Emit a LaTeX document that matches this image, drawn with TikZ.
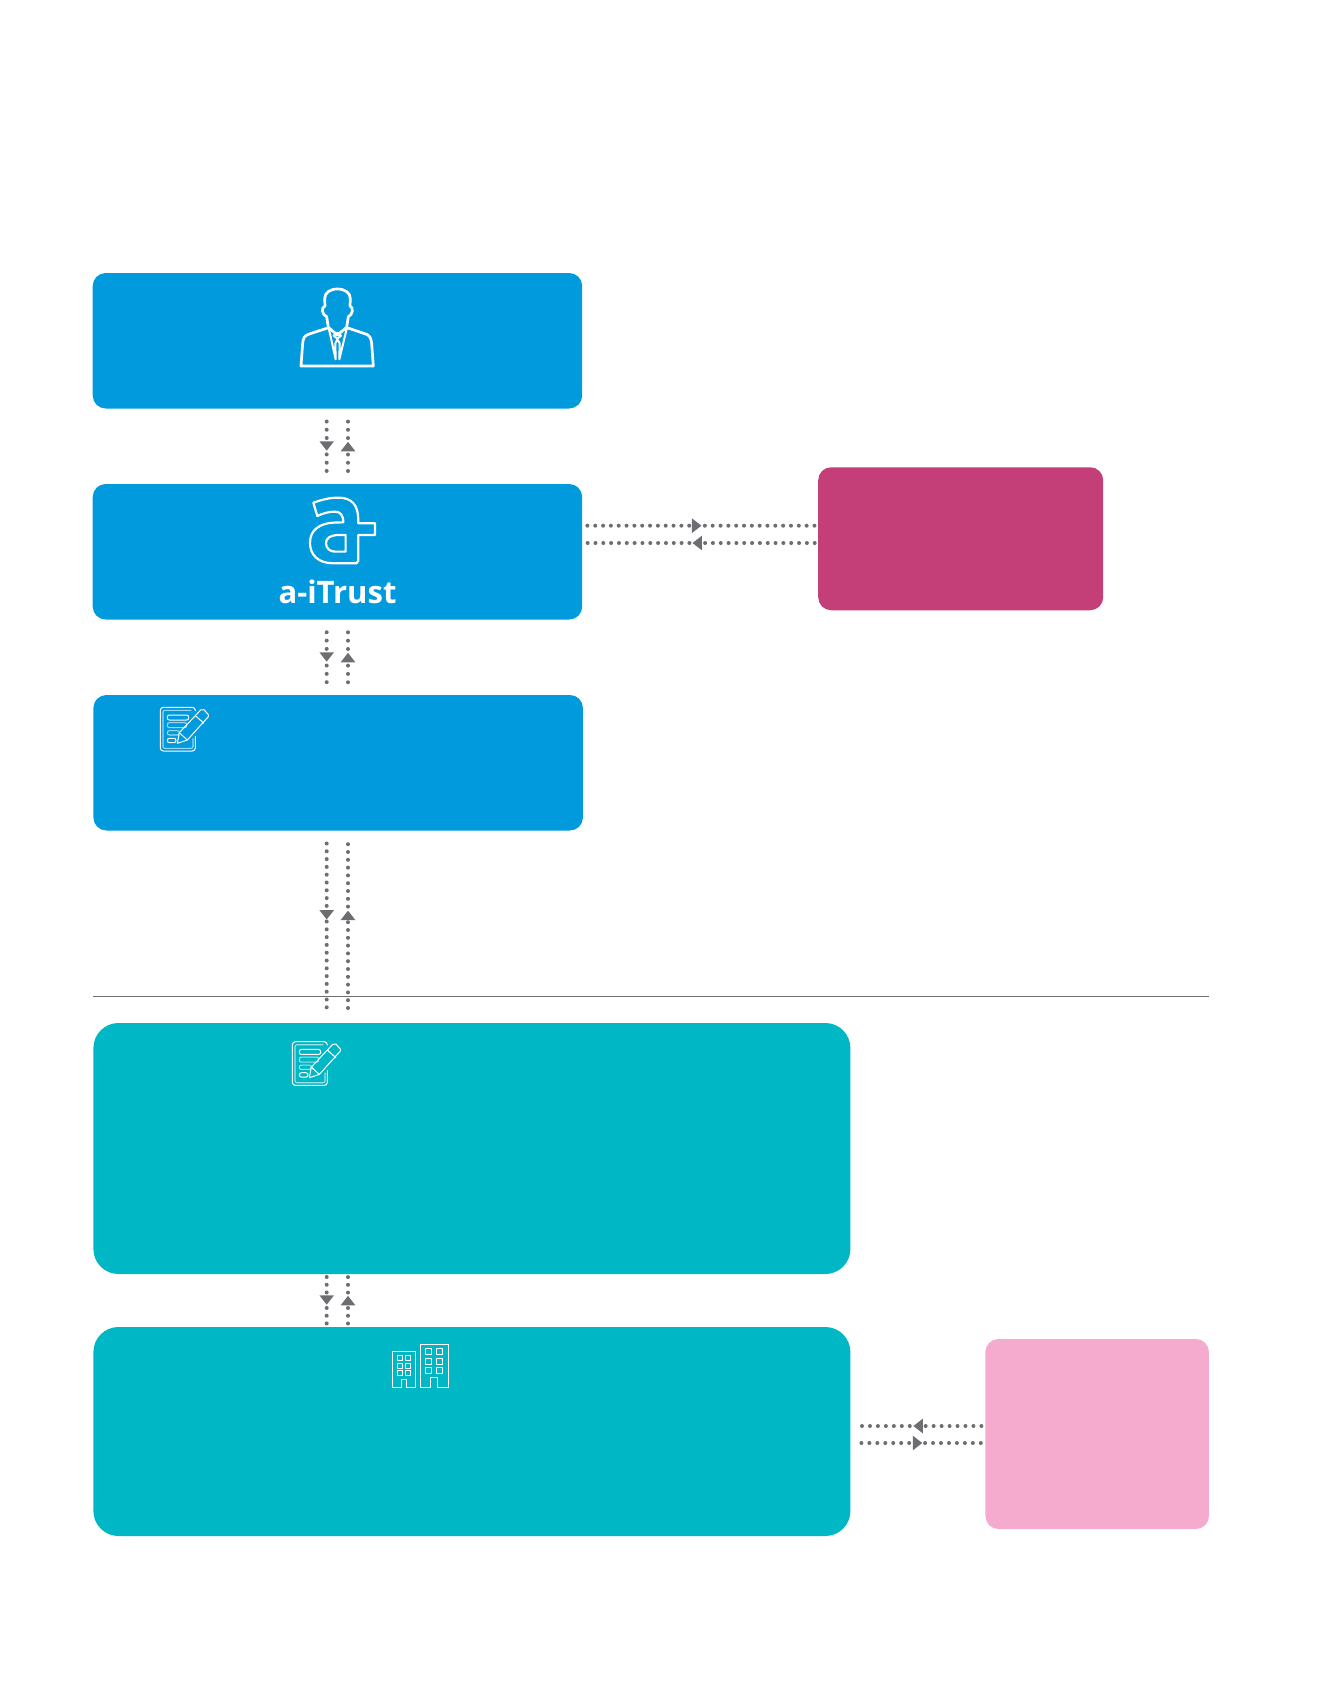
\documentclass[tikz,border=0pt]{standalone}
\usepackage{fontspec}
\usepackage{xcolor}
\usetikzlibrary{arrows.meta, positioning, decorations.markings}
\newfontfamily\brandfont{Open Sans}
\definecolor{panelblue}{HTML}{009ADD}
\definecolor{panelteal}{HTML}{00B8C5}
\definecolor{panelplum}{HTML}{C43E78}
\definecolor{panelpink}{HTML}{F5ABCE}
\definecolor{linkgrey}{HTML}{6D6E71}

\begin{document}
\begin{tikzpicture}[
        x=1pt, y=1pt,
        % Panel styles
        panel/.style={rectangle, inner sep=0pt, outer sep=0pt, rounded corners=13pt},
        bluebox/.style={panel, fill=panelblue, minimum width=489.5pt, minimum height=135.5pt},
        tealbox/.style={panel, fill=panelteal, minimum width=757pt, rounded corners=25pt},
        plumbox/.style={panel, fill=panelplum, minimum width=285pt, minimum height=143pt},
        pinkbox/.style={panel, fill=panelpink, minimum width=223.5pt, minimum height=190pt},
        % Connector styles
        linkdots/.style={linkgrey, line width=4pt, line cap=round,
                        postaction={decorate},
                        decoration={markings, mark=at position #1 with
                            {\arrow[xshift=4.5pt]{Triangle[length=9.5pt, width=14pt]}}}},
        linkdots/.default=0.5,
        dotgap/.style={dash pattern=on 0pt off #1},
        % Icon styles
        iconline/.style={white, line width=2.7pt, line join=round},
        thinline/.style={white, line width=1pt, line join=round},
        paleline/.style={white, opacity=0.6, line width=1.1pt, line join=round},
        pics/notepad/.style={code={
            \draw[thinline, rounded corners=3pt] (346,168) -- (346,213) -- (241,213) -- (241,82) -- (346,82) -- (346,93);
            \draw[paleline, rounded corners=2pt] (339,175) -- (339,205) -- (249,205) -- (249,91) -- (334,91);
            \draw[thinline, rounded corners=2pt] (262,105) rectangle (326,120);
            \draw[paleline, rounded corners=2pt] (262,128) rectangle (320,143);
            \draw[paleline, rounded corners=2pt] (262,152) -- (298,152) -- (298,165) -- (262,165) -- cycle;
            \draw[thinline, rounded corners=2pt] (262,175) -- (288,175) -- (288,188) -- (262,188) -- cycle;
            % Pencil
            \draw[thinline] (292,190) -- (298,158) -- (362,90) -- (372,89) -- (385,104) -- (385,110) -- (322,180) -- cycle;
            \draw[thinline] (298,158) -- (322,180);
            \draw[thinline] (346,107) -- (372,130);
        }}
    ]
        \useasboundingbox (0,0) rectangle (1332,-1703);

        % Upper blue panels
        \node[bluebox, anchor=north west] (user) at (92.7,-273) {};
        \node[bluebox, below=75.5pt of user] (trust) {};
        \node[bluebox, below=75.5pt of trust, xshift=0.7pt] (form) {};
        \node[plumbox, right=236pt of trust, yshift=13pt] (service) {};

        % Lower teal panels
        \node[tealbox, minimum height=251pt, below=192.5pt of form.south west, anchor=north west] (record) {};
        \node[tealbox, minimum height=209pt, below=53pt of record] (company) {};
        \node[pinkbox, right=135pt of company, yshift=-2.5pt] (partner) {};

        % Brand label
        \node[white, inner sep=0pt, anchor=base, font=\brandfont\bfseries\fontsize{31}{31}\selectfont] (brand) at (337.5,-603) {a-iTrust};

        % Divider
        \coordinate (ruleleft) at (93,-996);
        \coordinate (ruleright) at (1209,-996);
        \draw[linkgrey, line width=0.8pt] (ruleleft) -- (ruleright);

        % Columns and rows of the dotted links
        \coordinate (downx) at (326.7,0);
        \coordinate (upx) at (348,0);
        \coordinate (plumtop) at (0,-525.7);
        \coordinate (plumlow) at (0,-543);
        \coordinate (pinktop) at (0,-1426);
        \coordinate (pinklow) at (0,-1443);

        % Vertical links
        \draw[linkdots, dotgap=8.24pt] ([yshift=-13pt]downx |- user.south) -- ([yshift=13pt]downx |- trust.north);
        \draw[linkdots, dotgap=8.24pt] ([yshift=13pt]upx |- trust.north) -- ([yshift=-13pt]upx |- user.south);
        \draw[linkdots, dotgap=8.32pt] ([yshift=-12.75pt]downx |- trust.south) -- ([yshift=12.75pt]downx |- form.north);
        \draw[linkdots, dotgap=8.32pt] ([yshift=12.75pt]upx |- form.north) -- ([yshift=-12.75pt]upx |- trust.south);
        \draw[linkdots=0.435, dotgap=7.8pt] ([yshift=-13pt]downx |- form.south) -- ([yshift=15pt]downx |- record.north);
        \draw[linkdots=0.565, dotgap=7.8pt] ([yshift=15pt]upx |- record.north) -- ([yshift=-13pt]upx |- form.south);
        \draw[linkdots, dotgap=7.74pt] ([yshift=-3pt]downx |- record.south) -- ([yshift=3.5pt]downx |- company.north);
        \draw[linkdots, dotgap=7.74pt] ([yshift=3.5pt]upx |- company.north) -- ([yshift=-3pt]upx |- record.south);

        % Horizontal links
        \draw[linkdots=0.482, dotgap=7.83pt] ([xshift=5.2pt]trust.east |- plumtop) -- ([xshift=-3.5pt]service.west |- plumtop);
        \draw[linkdots=0.518, dotgap=7.83pt] ([xshift=-3.5pt]service.west |- plumlow) -- ([xshift=5.2pt]trust.east |- plumlow);
        \draw[linkdots=0.53, dotgap=7.96pt] ([xshift=-4pt]partner.west |- pinktop) -- ([xshift=11pt]company.east |- pinktop);
        \draw[linkdots=0.47, dotgap=7.96pt] ([xshift=11pt]company.east |- pinklow) -- ([xshift=-4pt]partner.west |- pinklow);

        % Person icon
        \begin{scope}[shift={(280pt,-280pt)}, x=0.3333pt, y=-0.3333pt]
            \draw[iconline] (145,142) -- (140,110) .. controls (126,105) and (122,82) .. (135,78)
                -- (134,56) .. controls (134,38) and (150,27) .. (172,27)
                .. controls (195,27) and (211,38) .. (211,56) -- (210,78)
                .. controls (222,82) and (218,105) .. (205,110) -- (200,142)
                -- (172,165) -- cycle;
            \draw[iconline] (146,143) -- (85,163) .. controls (72,168) and (70,175) .. (68,190)
                -- (63,258) -- (280,258) -- (275,190) .. controls (273,175) and (270,168) .. (260,163) -- (201,143);
            \draw[iconline, line width=2pt] (146,143) -- (167,238) -- (166,190) -- (172,178) -- (179,190) -- (178,238) -- (201,143);
            \draw[iconline, line width=2pt] (172,158) -- (183,167) -- (172,176) -- (161,167) -- cycle;
        \end{scope}

        % Brand icon
        \begin{scope}[shift={(80pt,-260pt)}, x=0.3333pt, y=-0.3333pt]
            \draw[white, line width=2.2pt, line join=round] (700,728) .. controls (730,718) and (750,713) .. (775,713)
                .. controls (815,713) and (835,735) .. (835,780) -- (835,790) -- (885,790) -- (885,825) -- (835,825)
                -- (835,903) -- (829,910) -- (760,910) .. controls (715,910) and (690,885) .. (690,848)
                .. controls (690,810) and (720,790) .. (760,788) -- (790,787)
                .. controls (790,765) and (780,755) .. (765,755) .. controls (745,755) and (730,760) .. (712,768) -- cycle;
            \draw[white, line width=2.2pt, line join=round] (797,825) -- (797,875) -- (765,875)
                .. controls (750,875) and (738,865) .. (738,850) .. controls (738,835) and (750,827) .. (770,825) -- cycle;
        \end{scope}

        % Form icons
        \pic[shift={(80pt,-680pt)}, x=0.3333pt, y=-0.3333pt] (noteupper) {notepad};
        \pic[shift={(212pt,-1014.4pt)}, x=0.3333pt, y=-0.3333pt] (notelower) {notepad};

        % Building icon
        \begin{scope}[shift={(360pt,-1320pt)}, x=0.3333pt, y=-0.3333pt]
            \draw[thinline] (124,202) -- (97,202) -- (97,94) -- (167,94) -- (167,202) -- (140,202) -- (140,177) -- (124,177) -- cycle;
            \draw[thinline] (213,202) -- (181,202) -- (181,72) -- (266,72) -- (266,202) -- (232,202) -- (232,172) -- (213,172) -- cycle;
            \foreach \rowy in {106,129,151} {
                \draw[thinline] (111,\rowy) rectangle ++(16,16);
                \draw[thinline] (137,\rowy) rectangle ++(16,16);
            }
            \foreach \rowy in {86,114,142} {
                \draw[thinline] (198,\rowy) rectangle ++(18,18);
                \draw[thinline] (229,\rowy) rectangle ++(18,18);
            }
        \end{scope}
    \end{tikzpicture}
\end{document}
